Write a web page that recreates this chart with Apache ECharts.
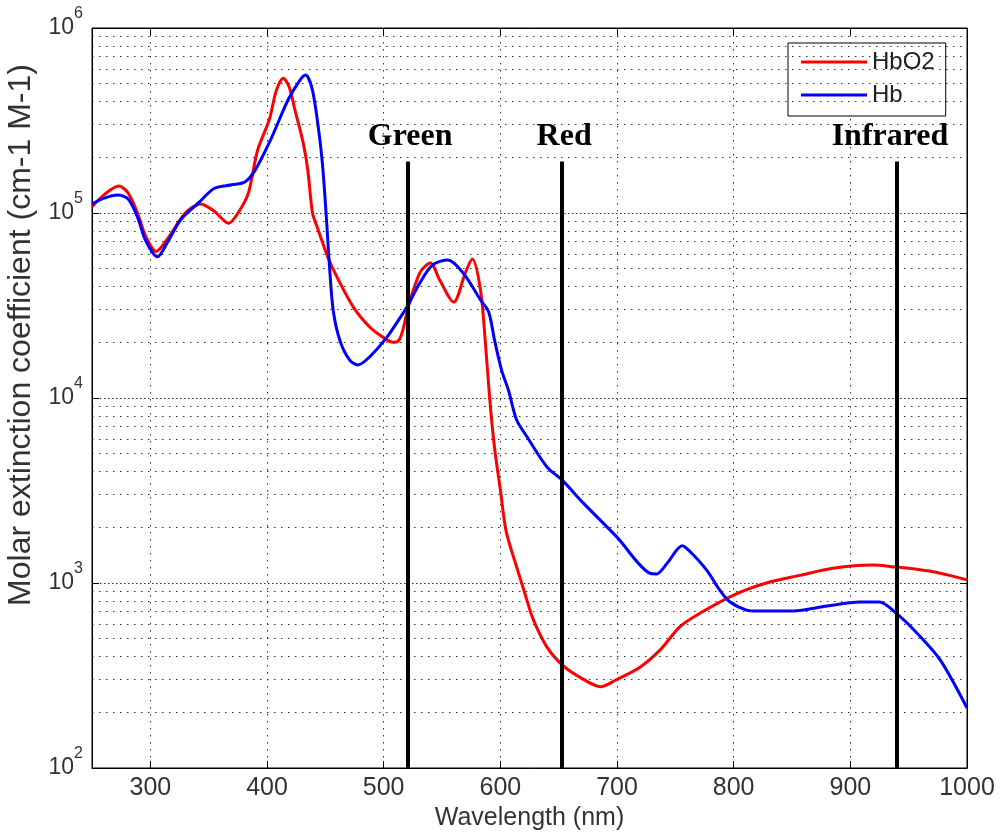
<!DOCTYPE html>
<html><head><meta charset="utf-8">
<script src="https://cdn.jsdelivr.net/npm/echarts@6/dist/echarts.min.js"></script>
<style>html,body{margin:0;padding:0;background:#fff}#c{width:1000px;height:836px}</style>
</head><body><div id="c"></div>
<script>
// ---- data ----
const hbo2Wavelengths = [250,260,273,281,289,296,305,315,330,343,355,367,376,384,392,402,408,414,419,424,431,435,439,443,452,460,474,488,499,508,513,517,521,531,540,548,560,570,576,583,587,591,595,600,605,614,621,628,640,653,668,686,699,720,737,754,771,800,828,857,885,919,939,955,971,985,1000];
const hbo2Values = [108000,125000,140000,128000,100000,75000,62000,73000,100000,112000,102000,88000,102000,128000,219000,320000,460000,535000,480000,360000,240000,170000,100000,84000,58000,45000,31000,24200,21400,20000,20500,24000,31000,47500,53700,43500,33000,47500,56400,38400,20600,9750,5400,3200,1900,1220,880,640,450,361,310,275,299,352,435,581,686,861,1000,1100,1200,1250,1220,1190,1150,1100,1040];
const hbWavelengths = [250,260,272,281,289,296,306,315,326,341,355,370,381,390,403,418,428,433,439,445,448,451,454,457,463,471,478,488,503,517,521,531,542,555,568,583,590,595,601,607,614,623,640,653,671,700,728,734,743,756,763,777,788,797,811,820,851,880,908,925,939,957,977,1000];
const hbValues = [112000,120000,125000,119000,95000,71000,58000,70000,92000,113000,136000,142000,147000,171000,248000,408000,520000,557000,460000,258000,170000,92000,47000,29000,20000,16000,15100,16700,21400,29000,31900,41900,52400,55700,47500,33900,29200,20600,14200,11000,7600,6150,4240,3600,2710,1770,1130,1120,1280,1590,1470,1170,917,789,714,706,706,751,789,789,689,537,384,211];
const xTickValues = [300,400,500,600,700,800,900,1000];
const minorGridValues = [200,300,400,500,600,700,800,900,2000,3000,4000,5000,6000,7000,8000,9000,20000,30000,40000,50000,60000,70000,80000,90000,200000,300000,400000,500000,600000,700000,800000,900000];
const bandNames = ['Green','Red','Infrared'];
const bandWavelengths = [521,653,940];
const bandBottom = 100;
const bandTop = 190000;
const seriesNames = ['HbO2','Hb'];

function zip(xs, ys){ return xs.map((x,i)=>[x, ys[i]]); }

const chart = echarts.init(document.getElementById('c'), null, {renderer:'canvas'});
const gridDot = '#333';
const bandLabelOffsets = [[2,0],[2,0],[-7,0]];
const option = {
  animation: false,
  backgroundColor: '#fff',
  grid: {left:92, right:33, top:28, bottom:68, show:true, borderColor:'#000', borderWidth:1,
         backgroundColor:'transparent', containLabel:false, outerBoundsMode:'none'},
  legend: {
    data: seriesNames, orient:'vertical', left:788, top:43,
    padding:[7,11,9,13], itemGap:9, itemWidth:66, itemHeight:3, icon:'rect',
    backgroundColor:'#fff', borderColor:'#000', borderWidth:1, borderRadius:0,
    textStyle:{fontSize:24, fontFamily:'Liberation Sans', color:'#222'}
  },
  xAxis: [{
    type:'value', min:250, max:1000, position:'bottom',
    name:'Wavelength (nm)', nameLocation:'middle', nameGap:38,
    nameTextStyle:{fontSize:25, fontFamily:'Liberation Sans', color:'#333'},
    axisLine:{show:true, lineStyle:{color:'#000', width:1}},
    axisTick:{show:true, inside:true, length:7, customValues:xTickValues, lineStyle:{color:'#000'}},
    axisLabel:{show:true, customValues:xTickValues, margin:8, fontSize:25, fontFamily:'Liberation Sans', color:'#333',
               formatter: v => String(v)},
    splitLine:{show:true, lineStyle:{type:[1.5,5.5], color:gridDot, width:1}}
  },{
    type:'value', min:250, max:1000, position:'top',
    axisLine:{show:true, lineStyle:{color:'#000', width:1}},
    axisTick:{show:true, inside:true, length:7, customValues:xTickValues, lineStyle:{color:'#000'}},
    axisLabel:{show:false}, splitLine:{show:false}
  }],
  yAxis: [{
    type:'log', logBase:10, min:100, max:1000000, position:'left',
    name:'Molar extinction coefficient (cm-1 M-1)', nameLocation:'middle', nameGap:53,
    nameTextStyle:{fontSize:32, fontFamily:'Liberation Sans', color:'#333', padding:[0,0,0,126]},
    axisLine:{show:true, lineStyle:{color:'#000', width:1}},
    axisTick:{show:true, inside:true, length:7, lineStyle:{color:'#000'}},
    axisLabel:{
      margin:9,
      formatter: v => '{b|10}{s|' + Math.round(Math.log10(v)) + '}',
      rich:{
        b:{fontSize:23, lineHeight:44, fontFamily:'Liberation Sans', color:'#333'},
        s:{fontSize:16, lineHeight:22, verticalAlign:'top', fontFamily:'Liberation Sans', color:'#333'}
      }
    },
    splitLine:{show:true, lineStyle:{type:[1.5,2.5], color:gridDot, width:1}}
  },{
    type:'log', logBase:10, min:100, max:1000000, position:'right',
    axisLine:{show:true, lineStyle:{color:'#000', width:1}},
    axisTick:{show:true, inside:true, length:7, lineStyle:{color:'#000'}},
    axisLabel:{show:false}, splitLine:{show:false}
  }],
  series: [
    {
      name:'minorGrid', type:'line', data:[], z:1, silent:true,
      markLine:{
        silent:true, symbol:['none','none'], label:{show:false},
        lineStyle:{type:[1.5,5.5], color:gridDot, width:1},
        data: minorGridValues.map(v => ({yAxis:v}))
      }
    },
    {
      name:seriesNames[0], type:'line', data:zip(hbo2Wavelengths, hbo2Values),
      showSymbol:false, smooth:0.3, z:3,
      lineStyle:{color:'#ff0000', width:3}, itemStyle:{color:'#ff0000'}
    },
    {
      name:seriesNames[1], type:'line', data:zip(hbWavelengths, hbValues),
      showSymbol:false, smooth:0.3, z:4,
      lineStyle:{color:'#0000ff', width:3}, itemStyle:{color:'#0000ff'}
    },
    {
      name:'bands', type:'line', data:[], z:6, silent:true,
      markLine:{
        silent:true, symbol:['none','none'],
        lineStyle:{type:'solid', color:'#000', width:4},
        label:{show:true, position:'end', formatter:'{b}', distance:9,
               fontFamily:'Liberation Serif', fontWeight:'bold', fontSize:32, color:'#000'},
        data: bandNames.map((n,i) => [
          {name:n, coord:[bandWavelengths[i], bandBottom], label:{offset:bandLabelOffsets[i]}},
          {coord:[bandWavelengths[i], bandTop]}
        ])
      }
    }
  ]
};
chart.setOption(option);
</script>
</body></html>
